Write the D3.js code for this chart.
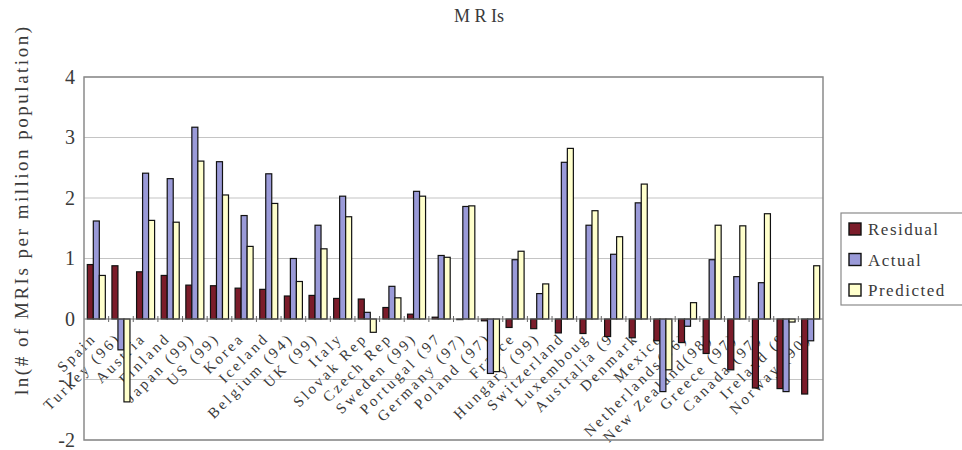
<!DOCTYPE html>
<html>
<head>
<meta charset="utf-8">
<script src="https://cdn.jsdelivr.net/npm/d3@7/dist/d3.min.js"></script>
<style>
  html, body { margin: 0; padding: 0; background: #fff; }
  svg { display: block; }
  text { font-family: "Liberation Serif", "DejaVu Serif", serif; fill: #3a3a3a; }
</style>
</head>
<body>
<svg id="chart" width="962" height="450"></svg>
<script>
// Countries (year of data in brackets where it differs)
const categories = [
  "Spain", "Turkey (96)", "Austria", "Finland", "Japan (99)", "US (99)",
  "Korea", "Iceland", "Belgium (94)", "UK (99)", "Italy", "Slovak Rep",
  "Czech Rep", "Sweden (99)", "Portugal (97", "Germany (97)", "Poland (97)",
  "France", "Hungary (99)", "Switzerland", "Luxemboug", "Australia (9",
  "Denmark", "Mexico", "Netherlands(96)", "New Zealand(98)", "Greece (97)",
  "Canada (97)", "Ireland (9", "Norway (90)"
];

// ln(# of MRIs per million population)
const actual = [
  1.62, -0.51, 2.41, 2.32, 3.17, 2.60,
  1.71, 2.40, 1.00, 1.55, 2.03, 0.11,
  0.54, 2.11, 1.05, 1.86, -0.90,
  0.98, 0.42, 2.59, 1.55, 1.07,
  1.92, -1.20, -0.12, 0.98, 0.70,
  0.60, -1.20, -0.36
];
const predicted = [
  0.72, -1.37, 1.63, 1.60, 2.61, 2.05,
  1.20, 1.91, 0.62, 1.16, 1.69, -0.22,
  0.35, 2.03, 1.02, 1.87, -0.87,
  1.12, 0.58, 2.82, 1.79, 1.36,
  2.23, -0.84, 0.27, 1.55, 1.54,
  1.74, -0.05, 0.88
];
const residual = [
  0.90, 0.88, 0.78, 0.72, 0.56, 0.55,
  0.51, 0.49, 0.38, 0.39, 0.34, 0.33,
  0.19, 0.08, 0.03, -0.01, -0.03,
  -0.14, -0.16, -0.23, -0.24, -0.29,
  -0.31, -0.36, -0.39, -0.57, -0.84,
  -1.14, -1.15, -1.24
];

const seriesNames = ["Residual", "Actual", "Predicted"];
const seriesColors = ["#7b1c2a", "#9a9ad8", "#ffffcc"];
const yTicks = [-2, -1, 0, 1, 2, 3, 4];
const chartTitle = "M R Is";
const yTitle = "ln(# of MRIs per million population)";

const seriesValues = [residual, actual, predicted];
const rows = categories.map((c, i) => ({
  country: c,
  values: seriesNames.map((s, k) => ({ series: s, value: seriesValues[k][i] }))
}));

const svg = d3.select("#chart");
const plot = { left: 84, right: 823, top: 77, bottom: 440 };

const x0 = d3.scaleBand().domain(categories).range([plot.left, plot.right]);
const x1 = d3.scaleBand().domain(seriesNames).range([0, x0.bandwidth()]).paddingOuter(0.55);
const y = d3.scaleLinear().domain([d3.min(yTicks), d3.max(yTicks)]).range([plot.bottom, plot.top]);
const color = d3.scaleOrdinal().domain(seriesNames).range(seriesColors);

svg.append("rect").attr("width", 962).attr("height", 450).attr("fill", "#fff");

// horizontal gridlines
svg.append("g")
  .selectAll("line")
  .data(yTicks.filter(t => t !== 0))
  .join("line")
  .attr("x1", plot.left).attr("x2", plot.right)
  .attr("y1", d => y(d)).attr("y2", d => y(d))
  .attr("stroke", "#c4c4c4").attr("stroke-width", 1.2);

// y axis tick labels (plain hyphen for negatives)
const yAxis = svg.append("g")
  .attr("transform", `translate(${plot.left},0)`)
  .call(d3.axisLeft(y).tickValues(yTicks).tickSize(0).tickPadding(9).tickFormat(d => String(d)));
yAxis.select(".domain").remove();
yAxis.selectAll("text")
  .style("font-family", "'Liberation Serif', serif")
  .style("font-size", "20px")
  .attr("fill", "#333");

// category labels, rotated, hanging from the zero line (drawn beneath the bars)
const xAxis = svg.append("g")
  .attr("transform", `translate(0,${y(0)})`);
xAxis.selectAll("text")
  .data(categories)
  .join("text")
  .attr("transform", d => `translate(${x0(d) + x0.bandwidth() / 2 + 1},20) rotate(-45)`)
  .attr("text-anchor", "end")
  .style("font-size", "15px")
  .style("letter-spacing", "2.8px")
  .attr("fill", "#4a4a4a")
  .text(d => d);

// bars
const groups = svg.append("g")
  .selectAll("g")
  .data(rows)
  .join("g")
  .attr("transform", d => `translate(${x0(d.country)},0)`);

groups.selectAll("rect")
  .data(d => d.values)
  .join("rect")
  .attr("x", d => x1(d.series))
  .attr("width", x1.bandwidth())
  .attr("y", d => y(Math.max(0, d.value)))
  .attr("height", d => Math.abs(y(d.value) - y(0)))
  .attr("fill", d => color(d.series))
  .attr("stroke", "#111")
  .attr("stroke-width", 1.2);

// zero axis with tick marks between categories
svg.append("line")
  .attr("x1", plot.left).attr("x2", plot.right)
  .attr("y1", y(0)).attr("y2", y(0))
  .attr("stroke", "#6a6a6a").attr("stroke-width", 1.2);
svg.append("g")
  .selectAll("line")
  .data(categories.slice(1))
  .join("line")
  .attr("x1", d => x0(d)).attr("x2", d => x0(d))
  .attr("y1", y(0) - 3).attr("y2", y(0) + 3)
  .attr("stroke", "#6a6a6a");

// plot area frame
svg.append("rect")
  .attr("x", plot.left).attr("y", plot.top)
  .attr("width", plot.right - plot.left).attr("height", plot.bottom - plot.top)
  .attr("fill", "none").attr("stroke", "#8a8a8a").attr("stroke-width", 1.5);

// title
svg.append("text")
  .attr("x", 479).attr("y", 22)
  .attr("text-anchor", "middle")
  .style("font-size", "18px")
  .attr("fill", "#333")
  .text(chartTitle);

// y axis title
svg.append("text")
  .attr("transform", "translate(28,211) rotate(-90)")
  .attr("text-anchor", "middle")
  .attr("textLength", 368)
  .attr("lengthAdjust", "spacing")
  .style("font-size", "19px")
  .attr("fill", "#333")
  .text(yTitle);

// legend
const legend = svg.append("g").attr("transform", "translate(841,213)");
legend.append("rect")
  .attr("width", 122).attr("height", 92)
  .attr("fill", "#fff").attr("stroke", "#8a8a8a").attr("stroke-width", 1.2);
const items = legend.selectAll("g")
  .data(seriesNames)
  .join("g")
  .attr("transform", (d, i) => `translate(0,${16 + i * 30.5})`);
items.append("rect")
  .attr("x", 8).attr("y", -6).attr("width", 12).attr("height", 12)
  .attr("fill", d => color(d))
  .attr("stroke", "#111").attr("stroke-width", 1.4);
items.append("text")
  .attr("x", 27).attr("y", 6)
  .style("font-size", "17px")
  .style("letter-spacing", "1.5px")
  .attr("fill", "#333")
  .text(d => d);
</script>
</body>
</html>
